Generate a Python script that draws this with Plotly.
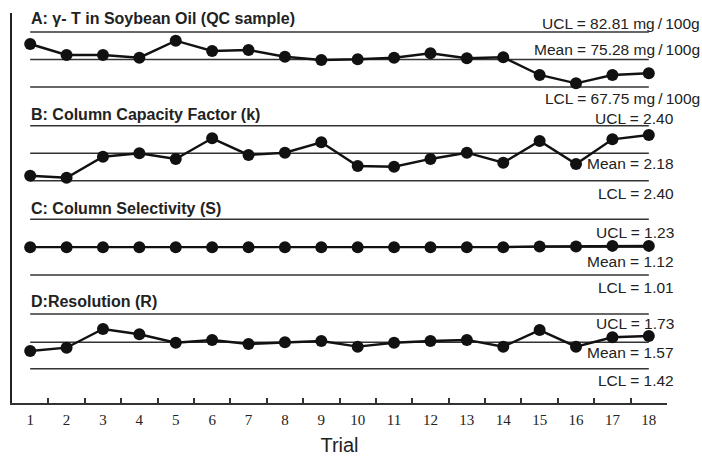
import plotly.graph_objects as go
from plotly.subplots import make_subplots

# ---------------- data ----------------
trials = list(range(1, 19))
tick_labels = [str(t) for t in trials]

a_values = [79.52, 76.51, 76.51, 75.77, 80.43, 77.61, 77.88, 76.05, 75.14,
            75.33, 75.77, 76.98, 75.61, 75.88, 71.04, 68.76, 71.04, 71.50]
b_values = [2.000, 1.984, 2.152, 2.179, 2.134, 2.299, 2.166, 2.184, 2.267,
            2.078, 2.072, 2.134, 2.184, 2.104, 2.278, 2.094, 2.291, 2.326]
c_values = [1.120, 1.120, 1.120, 1.120, 1.120, 1.120, 1.120, 1.120, 1.120,
            1.120, 1.120, 1.120, 1.120, 1.120, 1.123, 1.123, 1.125, 1.125]
d_values = [1.520, 1.539, 1.645, 1.615, 1.567, 1.583, 1.560, 1.570, 1.577,
            1.545, 1.567, 1.577, 1.583, 1.545, 1.639, 1.545, 1.598, 1.605]

# control limits (UCL, Mean, LCL) used to draw the lines
a_limits = [82.81, 75.28, 67.75]
b_limits = [2.40, 2.18, 1.96]
c_limits = [1.23, 1.12, 1.01]
d_limits = [1.73, 1.57, 1.42]

panel_titles = ["A: \u03b3- T in Soybean Oil (QC sample)",
                "B: Column Capacity Factor (k)",
                "C: Column Selectivity (S)",
                "D:Resolution (R)"]
u = "mg\u2009/\u2009100g"
a_labels = ["UCL = 82.81 " + u, "Mean = 75.28 " + u, "LCL = 67.75 " + u]
b_labels = ["UCL = 2.40", "Mean = 2.18", "LCL = 2.40"]
c_labels = ["UCL = 1.23", "Mean = 1.12", "LCL = 1.01"]
d_labels = ["UCL = 1.73", "Mean = 1.57", "LCL = 1.42"]

# ---------------- layout geometry (pixels) ----------------
W, H = 702, 456
PL, PR, PT, PB = 12, 667, 13, 403


def fy(py):
    return (PB - py) / (PB - PT)


def fx(px):
    return (px - PL) / (PR - PL)


panels = [
    dict(vals=a_values, lim=a_limits, lab=a_labels, dom=(13, 108), lines=(32, 87),
         lab_px=(23, 49, 98), lab_right=702, title_py=19),
    dict(vals=b_values, lim=b_limits, lab=b_labels, dom=(108, 200), lines=(125.7, 180.7),
         lab_px=(118, 163, 193), lab_right=676, title_py=115),
    dict(vals=c_values, lim=c_limits, lab=c_labels, dom=(200, 292), lines=(219.3, 275),
         lab_px=(232.7, 261.7, 287.3), lab_right=676, title_py=208),
    dict(vals=d_values, lim=d_limits, lab=d_labels, dom=(292, 403), lines=(314, 368.7),
         lab_px=(323.3, 352.7, 380.7), lab_right=676, title_py=301),
]

fig = make_subplots(rows=4, cols=1, shared_xaxes=True, vertical_spacing=0)

annotations = []
for i, p in enumerate(panels):
    row = i + 1
    ucl, mean, lcl = p["lim"]
    for v in (ucl, mean, lcl):
        fig.add_trace(go.Scatter(x=[trials[0], trials[-1]], y=[v, v], mode="lines",
                                 line=dict(color="#333333", width=1.6),
                                 hoverinfo="skip", showlegend=False), row=row, col=1)
    fig.add_trace(go.Scatter(x=trials, y=p["vals"], mode="lines+markers",
                             line=dict(color="#111111", width=2.4),
                             marker=dict(color="#111111", size=12),
                             showlegend=False), row=row, col=1)
    yu, yl = p["lines"]
    dt, db = p["dom"]
    s = (ucl - lcl) / (yl - yu)
    rng = [lcl - (db - yl) * s, ucl + (yu - dt) * s]
    yname = "yaxis" if row == 1 else f"yaxis{row}"
    fig.layout[yname].update(domain=[fy(db), fy(dt)], range=rng, showgrid=False,
                             zeroline=False, showticklabels=False, ticks="",
                             showline=True, linecolor="#222222", linewidth=1.5,
                             automargin=False)
    annotations.append(dict(text="<b>" + panel_titles[i] + "</b>", xref="paper", yref="paper",
                            x=fx(29), y=fy(p["title_py"]), xanchor="left", yanchor="middle",
                            showarrow=False,
                            font=dict(family="Liberation Sans, Arial", size=16, color="#222222")))
    for lab, lp in zip(p["lab"], p["lab_px"]):
        annotations.append(dict(text=lab, xref="paper", yref="paper",
                                x=fx(p["lab_right"]), y=fy(lp), xanchor="right", yanchor="middle",
                                showarrow=False,
                                font=dict(family="Liberation Sans, Arial", size=15.5, color="#222222")))

for r in range(1, 5):
    xname = "xaxis" if r == 1 else f"xaxis{r}"
    fig.layout[xname].update(range=[0.5, 18.5], showgrid=False, zeroline=False, automargin=False)

fig.update_layout(
    xaxis4=dict(showline=True, linecolor="#333333", linewidth=2,
                tickvals=trials, ticktext=tick_labels, ticks="inside", ticklen=0,
                ticklabelstandoff=2,
                tickfont=dict(family="Liberation Serif, Times New Roman", size=15, color="#222222"),
                minor=dict(tickvals=[t + 0.5 for t in trials], ticks="inside", ticklen=5,
                           tickcolor="#333333", tickwidth=1.5),
                title=dict(text="Trial", font=dict(family="Liberation Sans, Arial", size=20,
                                                   color="#222222"), standoff=18)),
    width=W, height=H,
    margin=dict(l=PL, r=W - PR, t=PT, b=H - PB, autoexpand=False),
    paper_bgcolor="white", plot_bgcolor="white",
    annotations=annotations,
)

fig.write_html("out.html", config={"displayModeBar": False},
               post_script="document.body.style.margin='0';document.body.style.padding='0';")
